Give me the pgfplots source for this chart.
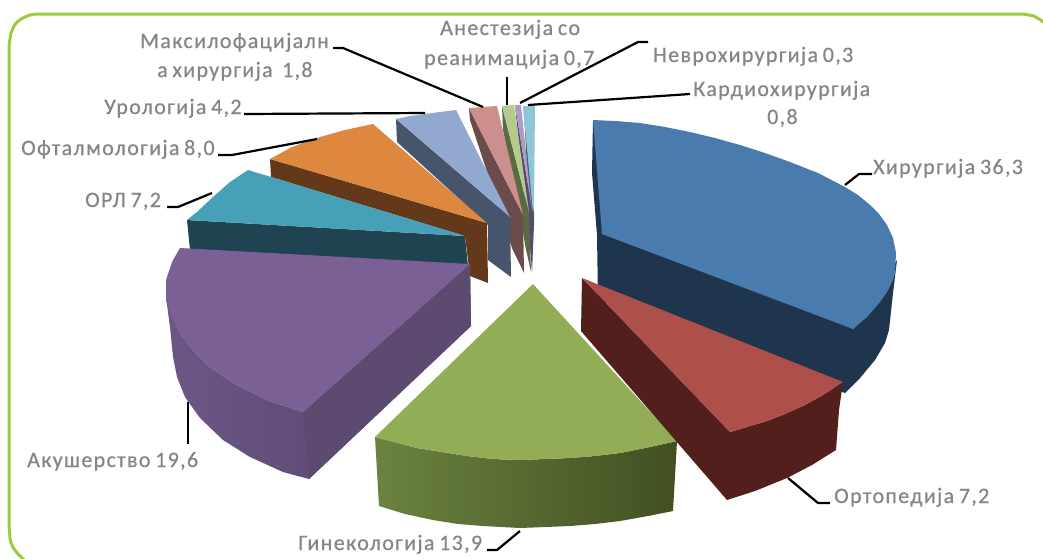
\documentclass[border=0pt]{standalone}
\usepackage{pgfplots}
\pgfplotsset{compat=1.18}
\usepackage{fontspec}
\setmainfont{Carlito}[LetterSpace=6,WordSpace=0.75,FakeBold=0.5]

\definecolor{frame}{HTML}{9CCB3B}
\definecolor{lab}{HTML}{858585}

\tikzset{
  lead/.style={draw=black,line width=2.2pt,line join=round},
  lbl/.style={anchor=base west,inner sep=0pt,text=lab,font=\fontsize{22}{22}\selectfont}
}
\newcommand{\face}[2]{\addplot[draw=none,fill={rgb,255:#1}] coordinates {#2} -- cycle;}

\begin{document}
\begin{tikzpicture}
\begin{axis}[
  scale only axis,
  width=1043pt,height=558pt,
  xmin=0,xmax=1043,ymin=0,ymax=558,
  y dir=reverse,
  hide axis,
  axis background/.style={fill=white},
]
% frame
\addplot[draw=frame,line width=3pt] coordinates {
(24,560)(18,554)(14,549)(11,543)(10,538)(9,525)(9,46)(10,39)(11,33)(14,26)(17,22)(21,19)(25,17)(30,15)(36,14)(42,14)(1023,14)(1029,15)(1034,16)(1039,19)(1045,23)};

% Hirurgija 36,3
\face{red,31;green,53;blue,78}{(593,120)(592,173)(597,235)(598,300)(845,393)(860,378)(875,360)(885,343)(889,330)(893,293)(897,260)(853,329)}
\face{red,74;green,123;blue,175}{(593,120)(615,121)(640,123)(665,127)(690,132)(715,138)(740,145)(765,153)(790,162)(818,173)(845,187)(858,195)(870,205)(879,214)(887,225)(893,238)(896,253)(895,273)(893,280)(887,292)(880,302)(867,317)(853,329)(602,234)}

% Kardiohirurgija 0,8
\face{red,68;green,88;blue,106}{(523,106)(525,130)(530,230)(532,272)(534,225)(534,213)}
\face{red,140;green,198;blue,216}{(523,106)(535,106)(534,203)(533,213)}
% Nevrohirurgija 0,3
\face{red,87;green,74;blue,112}{(515,105)(517,125)(528,225)(532,270)(532,210)}
\face{red,169;green,156;blue,197}{(515,105)(521,105)(532,210)}
% Anestezija 0,7
\face{red,90;green,106;blue,69}{(502,106)(503,130)(522,225)(525,245)(531,272)(529,212)}
\face{red,181;green,203;blue,139}{(502,106)(514,105)(529,212)}
% Maksilofacijalna 1,8
\face{red,108;green,75;blue,75}{(469,108)(470,120)(512,248)(524,273)(523,215)}
\face{red,205;green,143;blue,142}{(469,108)(497,106)(523,215)}
% Urologija 4,2
\face{red,70;green,85;blue,107}{(396,119)(397,142)(488,225)(488,260)(511,277)(510,217)}
\face{red,146;green,169;blue,207}{(396,119)(410,116)(425,114)(440,112)(456,110)(510,217)}
% Oftalmologija 8,0
\face{red,99;green,57;blue,26}{(270,159)(271,177)(465,236)(470,276)(488,283)(487,223)}
\face{red,221;green,135;blue,63}{(270,159)(281,153)(290,148)(305,142)(320,137)(345,130)(373,124)(487,223)}
% ORL 7,2
\face{red,31;green,67;blue,80}{(187,220)(190,250)(468,266)(465,236)}
\face{red,70;green,160;blue,184}{(248,170)(230,182)(213,197)(197,212)(187,220)(465,236)}
% Akusherstvo 19,6
\addplot[draw=none,left color={rgb,255:red,108;green,86;blue,134},right color={rgb,255:red,84;green,66;blue,104}] coordinates {
(166,297)(170,327)(173,357)(177,377)(185,397)(200,418)(223,440)(250,457)(283,472)(309,479)(471,326)(470,264)(303,412)(267,400)(233,383)(210,367)(193,350)(180,333)} -- cycle;
\face{red,92;green,74;blue,112}{(303,412)(470,264)(471,326)(309,479)}
\face{red,123;green,96;blue,150}{(180,248)(172,262)(166,280)(166,297)(170,315)(180,333)(193,350)(210,367)(233,383)(267,400)(303,412)(470,264)}
% Ginekologija 13,9
\addplot[draw=none,left color={rgb,255:red,107;green,131;blue,64},right color={rgb,255:red,65;green,79;blue,34}] coordinates {
(375,437)(379,506)(405,514)(433,520)(458,524)(483,526)(520,528)(545,527)(570,526)(595,524)(620,521)(648,516)(673,511)(677,441)(650,447)(620,453)(595,456)(570,458)(545,459)(520,460)(493,459)(467,456)(442,452)(417,448)} -- cycle;
\face{red,147;green,173;blue,86}{(533,284)(677,441)(650,447)(620,453)(595,456)(570,458)(545,459)(520,460)(493,459)(467,456)(442,452)(417,448)(375,437)}
% Ortopedija 7,2
\face{red,82;green,31;blue,28}{(582,278)(581,331)(727,500)(755,491)(787,478)(812,465)(836,450)(839,410)(843,382)(823,395)(803,406)(785,414)(767,421)(730,432)}
\face{red,173;green,79;blue,75}{(582,278)(843,382)(823,395)(803,406)(785,414)(767,421)(730,432)}

% leaders
\addplot[lead] coordinates {(333,48)(343,48)(483,107)};
\addplot[lead] coordinates {(507,77)(507,105)};
\addplot[lead] coordinates {(648,42)(638,42)(520,103)};
\addplot[lead] coordinates {(690,94)(528,105)};
\addplot[lead] coordinates {(872,174)(859,174)(845,185)};
\addplot[lead] coordinates {(830,503)(818,503)(788,478)};
\addplot[lead] coordinates {(487,550)(497,550)(520,531)};
\addplot[lead] coordinates {(188,402)(188,444)};
\addplot[lead] coordinates {(167,207)(178,207)(212,193)};
\addplot[lead] coordinates {(218,155)(232,155)(317,139)};
\addplot[lead] coordinates {(244,114)(425,113)};

% labels
\node[lbl] at (axis cs:140,48) {Максилофацијалн};
\node[lbl] at (axis cs:157,77) {а хирургија\ \ 1,8};
\node[lbl] at (axis cs:440,35) {Анестезија со};
\node[lbl] at (axis cs:424,65) {реанимација 0,7};
\node[lbl] at (axis cs:653,62) {Неврохирургија 0,3};
\node[lbl] at (axis cs:693,96) {Кардиохирургија};
\node[lbl] at (axis cs:767,124) {0,8};
\node[lbl] at (axis cs:873,174) {Хирургија 36,3};
\node[lbl] at (axis cs:834,503) {Ортопедија 7,2};
\node[lbl] at (axis cs:298,550) {Гинекологија 13,9};
\node[lbl] at (axis cs:27,467) {Акушерство 19,6};
\node[lbl] at (axis cs:85,207) {ОРЛ 7,2};
\node[lbl] at (axis cs:21,155) {Офталмологија 8,0};
\node[lbl] at (axis cs:104,114) {Урологија 4,2};
\end{axis}
\end{tikzpicture}
\end{document}
